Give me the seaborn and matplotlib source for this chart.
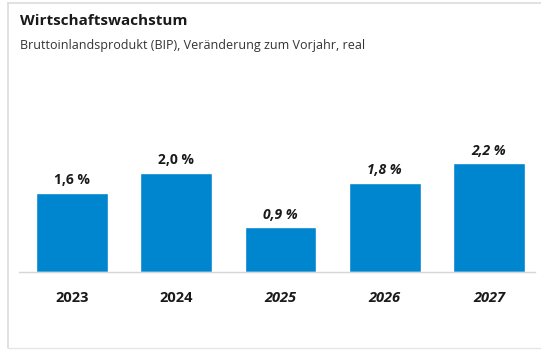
import matplotlib
matplotlib.use("Agg")
import matplotlib.pyplot as plt
import seaborn as sns
import pandas as pd
from matplotlib.lines import Line2D

years = ["2023", "2024", "2025", "2026", "2027"]
growth = [1.6, 2.0, 0.9, 1.8, 2.2]
value_labels = ["1,6 %", "2,0 %", "0,9 %", "1,8 %", "2,2 %"]
forecast = [False, False, True, True, True]

title = "Wirtschaftswachstum"
subtitle = "Bruttoinlandsprodukt (BIP), Veränderung zum Vorjahr, real"

sns.set_theme(style="white")
plt.rcParams["font.family"] = ["Open Sans", "DejaVu Sans"]

W, H = 541, 350
fig = plt.figure(figsize=(W / 100, H / 100), dpi=100)
fig.patch.set_facecolor("white")

# axes in pixel geometry
left_px, right_px, top_px, base_px = 19, 535, 140, 272
ax = fig.add_axes([left_px / W, (H - base_px) / H, (right_px - left_px) / W, (base_px - top_px) / H])

df = pd.DataFrame({"year": years, "growth": growth})
sns.barplot(data=df, x="year", y="growth", color="#0085cf", saturation=1, width=0.69, ax=ax)

ax.set_xlim(-0.508, 4.441)
ax.set_ylim(0, 2.667)
ax.set_xlabel("")
ax.set_ylabel("")
ax.set_yticks([])
for s in ["top", "right", "left"]:
    ax.spines[s].set_visible(False)
ax.spines["bottom"].set_color("#d6d6d6")
ax.spines["bottom"].set_linewidth(1)
ax.tick_params(axis="x", length=0, pad=13.5)

for lbl, fc in zip(ax.get_xticklabels(), forecast):
    lbl.set_fontweight("bold")
    lbl.set_fontsize(10.5)
    lbl.set_color("#1a1a1a")
    if fc:
        lbl.set_fontstyle("italic")

texts = ax.bar_label(ax.containers[0], labels=value_labels, padding=4,
                     fontsize=10, fontweight="bold", color="#1a1a1a")
for t, fc in zip(texts, forecast):
    if fc:
        t.set_fontstyle("italic")

fig.text(20 / W, 1 - 21 / H, title, fontsize=11, fontweight="bold", color="#1a1a1a", va="center", ha="left")
fig.text(20 / W, 1 - 45 / H, subtitle, fontsize=9, color="#333333", va="center", ha="left")

# frame lines
fig.add_artist(Line2D([7.5 / W, 1], [1 - 2.5 / H, 1 - 2.5 / H], color="#dcdcdc", lw=1.2, transform=fig.transFigure))
fig.add_artist(Line2D([7.5 / W, 7.5 / W], [1 - 2.5 / H, 1 - 348 / H], color="#dcdcdc", lw=1.2, transform=fig.transFigure))
fig.add_artist(Line2D([7.5 / W, 1], [1 - 348 / H, 1 - 348 / H], color="#e6e6e6", lw=1.0, transform=fig.transFigure))

fig.savefig("out.png", dpi=100)
